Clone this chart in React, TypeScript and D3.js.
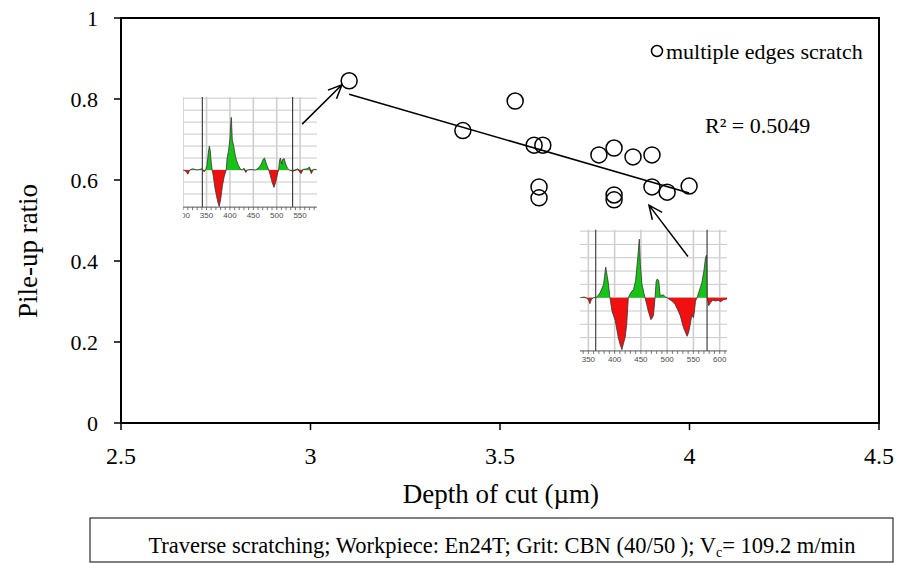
import React from "react";
import { scaleLinear, area, line, range } from "d3";

// scatter: depth of cut (µm) vs pile-up ratio
const depth = [3.102, 3.402, 3.54, 3.59, 3.613, 3.603, 3.603, 3.761, 3.801, 3.801, 3.801, 3.851, 3.901, 3.901, 3.941, 3.999];
const pileUp = [0.845, 0.722, 0.795, 0.686, 0.686, 0.583, 0.556, 0.662, 0.679, 0.563, 0.551, 0.657, 0.662, 0.583, 0.57, 0.585];

const xTicks = [2.5, 3, 3.5, 4, 4.5];
const yTicks = [0, 0.2, 0.4, 0.6, 0.8, 1];
const r2Label = "R² = 0.5049";
const legendLabel = "multiple edges scratch";

// profile insets: [position, height in grid units]
const profileA: [number, number][] = [
  [300, 0], [306, -0.1], [310, -0.35], [314, 0], [320, 0.1], [330, 0], [340, 0.1], [345, -0.15], [348, 0],
  [351, 0.4], [354, 1.5], [356, 2.0], [358, 1.6], [360, 0.6], [362, 0],
  [364, -0.4], [368, -1.5], [372, -2.3], [375, -2.8], [377, -3.05], [380, -2.5], [384, -1.3], [388, -0.5], [392, 0],
  [394, 1.0], [397, 1.6], [400, 2.6], [402, 4.0], [403, 4.4], [405, 2.5], [408, 2.0], [411, 1.3], [414, 0.8], [418, 0.4], [422, 0.1], [426, 0],
  [430, 0.15], [434, -0.2], [437, 0], [445, 0.05], [455, 0], [462, 0.2], [467, 0.5], [471, 0.9], [474, 1.0], [478, 0.5], [483, 0],
  [486, -0.4], [490, -1.0], [494, -1.45], [498, -1.0], [502, -0.25], [504, 0],
  [506, 0.8], [508, 1.0], [511, 0.5], [513, 0.9], [516, 0.95], [519, 0.5], [523, 0.15], [527, 0],
  [535, -0.1], [545, 0.1], [552, -0.3], [556, 0.05], [565, 0.1], [570, 0.25], [574, -0.3], [578, 0.05], [585, 0.05],
];
const profileB: [number, number][] = [
  [335, 0], [342, 0.05], [347, -0.05], [350, -0.15], [353, -0.45], [356, -0.1], [360, 0], [364, 0],
  [366, 0.05], [372, 0.35], [376, 0.7], [379, 1.0], [383, 2.3], [386, 1.6], [388, 1.1], [391, 0],
  [395, -1.0], [401, -1.7], [407, -3.0], [411, -3.6], [414, -3.9], [417, -3.4], [420, -3.0], [423, -2.0], [426, 0],
  [429, 0.25], [433, 0.5], [436, 0.6], [440, 1.3], [444, 3.0], [447, 4.4], [449, 2.5], [452, 1.0], [456, 0.3], [458, 0],
  [461, -0.5], [464, -1.0], [469, -1.65], [472, -1.5], [474, -1.3], [477, 0],
  [479, 1.2], [481, 1.4], [484, 1.3], [486, 0.4], [487, 0.1], [490, 0.2], [493, 0.2], [497, 0.05], [500, 0],
  [503, -0.1], [509, -0.25], [515, -0.5], [520, -0.9], [525, -1.35], [531, -2.25], [538, -2.9], [541, -2.6], [544, -2.0],
  [547, -1.3], [550, -1.5], [552, -1.0], [554, -0.25], [557, 0],
  [561, 0.5], [566, 1.1], [570, 2.0], [573, 3.0], [575, 3.2], [576, 0],
  [579, -0.6], [583, -0.35], [587, -0.2], [592, -0.25], [597, -0.2], [602, -0.3], [607, -0.15], [614, -0.1],
];

const W = 899;
const H = 563;
const plot = { left: 121, right: 879, top: 18, bottom: 423 };
const serif = "'Liberation Serif', 'Times New Roman', serif";

const arrowPath = (x1: number, y1: number, x2: number, y2: number) => {
  const a = Math.atan2(y2 - y1, x2 - x1);
  const len = 15;
  const spread = 0.42;
  const w1 = [x2 - len * Math.cos(a - spread), y2 - len * Math.sin(a - spread)];
  const w2 = [x2 - len * Math.cos(a + spread), y2 - len * Math.sin(a + spread)];
  return `M${x1},${y1}L${x2},${y2}M${w1[0]},${w1[1]}L${x2},${y2}L${w2[0]},${w2[1]}`;
};

type InsetProps = {
  id: string;
  x0: number; y0: number; x1: number; y1: number;
  domain: [number, number];
  hDomain: [number, number];
  data: [number, number][];
  labels: number[];
  darkLines: number[];
};

const Inset = ({ id, x0, y0, x1, y1, domain, hDomain, data, labels, darkLines }: InsetProps) => {
  const w = x1 - x0;
  const h = y1 - y0;
  const xs = scaleLinear().domain(domain).range([0, w]);
  const ys = scaleLinear().domain(hDomain).range([h, 0]);
  const up = area<[number, number]>().x((d) => xs(d[0])).y0(ys(0)).y1((d) => ys(Math.max(d[1], 0)));
  const down = area<[number, number]>().x((d) => xs(d[0])).y0(ys(0)).y1((d) => ys(Math.min(d[1], 0)));
  const outline = line<[number, number]>().x((d) => xs(d[0])).y((d) => ys(d[1]));
  const gridH = range(Math.ceil(hDomain[0]) + 1, Math.floor(hDomain[1]) + 1);
  const minor = range(Math.ceil(domain[0] / 10) * 10, domain[1] + 0.1, 10);
  return (
    <g transform={`translate(${x0},${y0})`}>
      <clipPath id={id}>
        <rect x={0} y={-2} width={w} height={h + 18} />
      </clipPath>
      <g clipPath={`url(#${id})`}>
        <rect x={0} y={0} width={w} height={h + 14} fill="#fff" />
        {gridH.map((g) => (
          <line key={g} x1={0} x2={w} y1={ys(g)} y2={ys(g)} stroke="#c9c9c9" strokeWidth={1} />
        ))}
        {labels.map((l) => (
          <line key={l} x1={xs(l)} x2={xs(l)} y1={0} y2={h} stroke="#cfcfcf" strokeWidth={1.6} />
        ))}
        {darkLines.map((l) => (
          <line key={l} x1={xs(l)} x2={xs(l)} y1={0} y2={h} stroke="#333" strokeWidth={1.1} />
        ))}
        <path d={up(data) || ""} fill="#17c317" />
        <path d={down(data) || ""} fill="#f01010" />
        <path d={outline(data) || ""} fill="none" stroke="#333" strokeWidth={0.8} />
        <line x1={0} x2={w} y1={h} y2={h} stroke="#555" strokeWidth={1} />
        {minor.map((m) => (
          <line key={m} x1={xs(m)} x2={xs(m)} y1={h} y2={h + 3} stroke="#555" strokeWidth={0.8} />
        ))}
        {labels.map((l) => (
          <text key={l} x={xs(l)} y={h + 11} textAnchor="middle" fontSize={8}
            fontFamily="'Liberation Sans', Arial, sans-serif" fill="#4a4a4a">{l}</text>
        ))}
      </g>
    </g>
  );
};

export default function App() {
  const x = scaleLinear().domain([2.5, 4.5]).range([plot.left, plot.right]);
  const y = scaleLinear().domain([0, 1]).range([plot.bottom, plot.top]);

  // least squares trend line
  const n = depth.length;
  const mx = depth.reduce((a, b) => a + b, 0) / n;
  const my = pileUp.reduce((a, b) => a + b, 0) / n;
  let sxy = 0;
  let sxx = 0;
  depth.forEach((d, i) => {
    sxy += (d - mx) * (pileUp[i] - my);
    sxx += (d - mx) * (d - mx);
  });
  const slope = sxy / sxx;
  const fit = (v: number) => my + slope * (v - mx);
  const xMin = Math.min(...depth);
  const xMax = Math.max(...depth);

  return (
    <svg width={W} height={H} style={{ position: "absolute", left: 0, top: 0, background: "#fff" }}>
      <Inset id="insetA" x0={x(2.664)} y0={y(0.805)} x1={x(3.017)} y1={y(0.533)} domain={[300, 586]}
        hDomain={[-3.1, 6.1]} data={profileA} labels={[300, 350, 400, 450, 500, 550]} darkLines={[341, 534]} />
      <Inset id="insetB" x0={x(3.711)} y0={y(0.477)} x1={x(4.099)} y1={y(0.178)} domain={[334, 614]}
        hDomain={[-4, 5.1]} data={profileB} labels={[350, 400, 450, 500, 550, 600]} darkLines={[364, 576]} />

      <path d={arrowPath(x(2.978), y(0.738), x(3.083), y(0.835))} fill="none" stroke="#000" strokeWidth={1.5} />
      <path d={arrowPath(x(3.996), y(0.411), x(3.893), y(0.538))} fill="none" stroke="#000" strokeWidth={1.5} />

      <line x1={x(xMin)} y1={y(fit(xMin))} x2={x(xMax)} y2={y(fit(xMax))} stroke="#000" strokeWidth={1.5} />

      {depth.map((d, i) => (
        <circle key={i} cx={x(d)} cy={y(pileUp[i])} r={8} fill="none" stroke="#000" strokeWidth={1.5} />
      ))}

      <rect x={plot.left} y={plot.top} width={plot.right - plot.left} height={plot.bottom - plot.top}
        fill="none" stroke="#000" strokeWidth={2} />

      {yTicks.map((t) => (
        <g key={t}>
          <line x1={plot.left - 7} x2={plot.left} y1={y(t)} y2={y(t)} stroke="#000" strokeWidth={1.5} />
          <text x={plot.left - 23} y={y(t) + 7.5} textAnchor="end" fontSize={22} fontFamily={serif}>{t}</text>
        </g>
      ))}
      {xTicks.map((t) => (
        <g key={t}>
          <line x1={x(t)} x2={x(t)} y1={plot.bottom} y2={plot.bottom + 7} stroke="#000" strokeWidth={1.5} />
          <text x={x(t)} y={plot.bottom + 41} textAnchor="middle" fontSize={24} fontFamily={serif}>{t}</text>
        </g>
      ))}

      <text x={501} y={plot.bottom + 80} textAnchor="middle" fontSize={27} fontFamily={serif}>
        Depth of cut (µm)
      </text>
      <text transform={`translate(37,251) rotate(-90)`} textAnchor="middle" fontSize={27} fontFamily={serif}>
        Pile-up ratio
      </text>

      <circle cx={657} cy={51} r={5.5} fill="none" stroke="#000" strokeWidth={1.5} />
      <text x={666} y={59} fontSize={22} fontFamily={serif}>{legendLabel}</text>
      <text x={705} y={133} fontSize={22} fontFamily={serif}>{r2Label}</text>

      <rect x={90} y={518} width={803} height={44} fill="none" stroke="#000" strokeWidth={1} />
      <text x={502} y={553} textAnchor="middle" fontSize={22.5} fontFamily={serif}>
        Traverse scratching; Workpiece: En24T; Grit: CBN (40/50 ); V
        <tspan fontSize={14} dy={4}>c</tspan>
        <tspan dy={-4}>= 109.2 m/min</tspan>
      </text>
    </svg>
  );
}
